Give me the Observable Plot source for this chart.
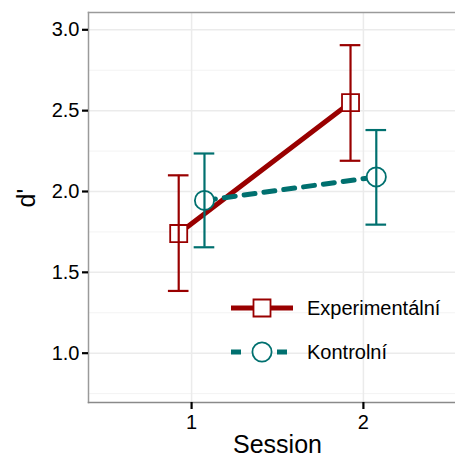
<!DOCTYPE html>
<html>
<head>
<meta charset="utf-8">
<script src="https://cdn.jsdelivr.net/npm/d3@7"></script>
<script src="https://cdn.jsdelivr.net/npm/@observablehq/plot@0.6"></script>
<style>
  html, body { margin: 0; padding: 0; background: #fff; overflow: hidden; }
  #wrap { position: relative; width: 466px; height: 462px; font-family: "Liberation Sans", Arial, sans-serif; }
  #legend { position: absolute; left: 225px; top: 290px; }
</style>
</head>
<body>
<div id="wrap"></div>
<script>
// ---- data ----
const sessions = [1, 2];
const groups = ["Experimentální", "Kontrolní"];
const expMean = [1.74, 2.55];
const expLow  = [1.385, 2.19];
const expHigh = [2.10, 2.905];
const ctrlMean = [1.945, 2.09];
const ctrlLow  = [1.655, 1.795];
const ctrlHigh = [2.235, 2.38];
const yTicks = [1.0, 1.5, 2.0, 2.5, 3.0];
const yMinor = [0.75, 1.25, 1.75, 2.25, 2.75];

// ---- styles ----
const colors = ["#990000", "#00706f"];
const symbols = ["square", "circle"];
const dashes = [null, "11,9"];
const dodge = 0.15;
const capWidth = 0.12;

const rows = [];
sessions.forEach((s, i) => {
  rows.push({session: s, group: groups[0], gi: 0, mean: expMean[i], low: expLow[i], high: expHigh[i]});
  rows.push({session: s, group: groups[1], gi: 1, mean: ctrlMean[i], low: ctrlLow[i], high: ctrlHigh[i]});
});
const xpos = d => d.session + (d.gi === 0 ? -dodge / 2 : dodge / 2);

const marks = [
  Plot.gridY(yMinor, {stroke: "#f3f3f3", strokeOpacity: 1, strokeWidth: 1}),
  Plot.gridY(yTicks, {stroke: "#ebebeb", strokeOpacity: 1, strokeWidth: 1.5}),
  Plot.gridX(sessions, {stroke: "#ebebeb", strokeOpacity: 1, strokeWidth: 1.5}),
  Plot.frame({anchor: "left", stroke: "#9a9a9a", strokeWidth: 1.5}),
  Plot.frame({anchor: "top", stroke: "#9a9a9a", strokeWidth: 1.5}),
  Plot.frame({anchor: "bottom", stroke: "#8a8a8a", strokeWidth: 1.5}),
  Plot.axisY(yTicks, {tickFormat: d3.format(".1f"), tickSize: 6, tickPadding: 3, stroke: "#000", strokeOpacity: 1, strokeWidth: 2.2, fill: "#000", fontSize: 20, label: null}),
  Plot.axisX(sessions, {tickFormat: d3.format("d"), tickSize: 7, tickPadding: 5, stroke: "#000", strokeOpacity: 1, strokeWidth: 2.2, fill: "#000", fontSize: 20, label: null}),
  Plot.text(["Session"], {frameAnchor: "bottom", dy: 50, fontSize: 25, lineAnchor: "bottom", fill: "#000"}),
  Plot.text(["d'"], {frameAnchor: "left", dx: -62, rotate: -90, fontSize: 25, fill: "#000"})
];

groups.forEach((g, gi) => {
  const data = rows.filter(d => d.gi === gi);
  marks.push(Plot.line(data, {x: xpos, y: "mean", stroke: colors[gi], strokeWidth: 5, strokeDasharray: dashes[gi]}));
});
groups.forEach((g, gi) => {
  const data = rows.filter(d => d.gi === gi);
  marks.push(Plot.dot(data, {x: xpos, y: "mean", symbol: symbols[gi], r: 9.6, fill: "white", stroke: colors[gi], strokeWidth: 1.8}));
  marks.push(Plot.ruleX(data, {x: xpos, y1: "low", y2: "high", stroke: colors[gi], strokeWidth: 2.2}));
  marks.push(Plot.ruleY(data, {y: "low", x1: d => xpos(d) - capWidth / 2, x2: d => xpos(d) + capWidth / 2, stroke: colors[gi], strokeWidth: 2.2}));
  marks.push(Plot.ruleY(data, {y: "high", x1: d => xpos(d) - capWidth / 2, x2: d => xpos(d) + capWidth / 2, stroke: colors[gi], strokeWidth: 2.2}));
});

const chart = Plot.plot({
  width: 466,
  height: 462,
  marginTop: 12,
  marginBottom: 60,
  marginLeft: 88,
  marginRight: 0,
  style: {fontFamily: "'Liberation Sans', Arial, sans-serif", color: "#000", background: "#fff"},
  x: {domain: [0.4, 2.6]},
  y: {domain: [0.695, 3.107]},
  marks
});
document.getElementById("wrap").appendChild(chart);

// ---- in-panel legend ----
const ns = "http://www.w3.org/2000/svg";
const leg = document.createElementNS(ns, "svg");
leg.setAttribute("id", "legend");
leg.setAttribute("width", 230);
leg.setAttribute("height", 90);
groups.forEach((g, gi) => {
  const y = 18 + gi * 44;
  const line = document.createElementNS(ns, "line");
  line.setAttribute("x1", 6); line.setAttribute("x2", 68);
  line.setAttribute("y1", y); line.setAttribute("y2", y);
  line.setAttribute("stroke", colors[gi]); line.setAttribute("stroke-width", 5);
  if (dashes[gi]) { line.setAttribute("stroke-dasharray", "10,13"); }
  leg.appendChild(line);
  const sym = gi === 0 ? d3.symbolSquare : d3.symbolCircle;
  const path = document.createElementNS(ns, "path");
  path.setAttribute("d", d3.symbol(sym, Math.PI * 9.6 * 9.6)());
  path.setAttribute("transform", `translate(37,${y})`);
  path.setAttribute("fill", "white");
  path.setAttribute("stroke", colors[gi]);
  path.setAttribute("stroke-width", 1.8);
  leg.appendChild(path);
  const t = document.createElementNS(ns, "text");
  t.setAttribute("x", 82); t.setAttribute("y", y);
  t.setAttribute("dy", "0.35em");
  t.setAttribute("font-size", 20);
  t.setAttribute("font-family", "'Liberation Sans', Arial, sans-serif");
  t.setAttribute("fill", "#000");
  t.textContent = g;
  leg.appendChild(t);
});
document.getElementById("wrap").appendChild(leg);
</script>
</body>
</html>
